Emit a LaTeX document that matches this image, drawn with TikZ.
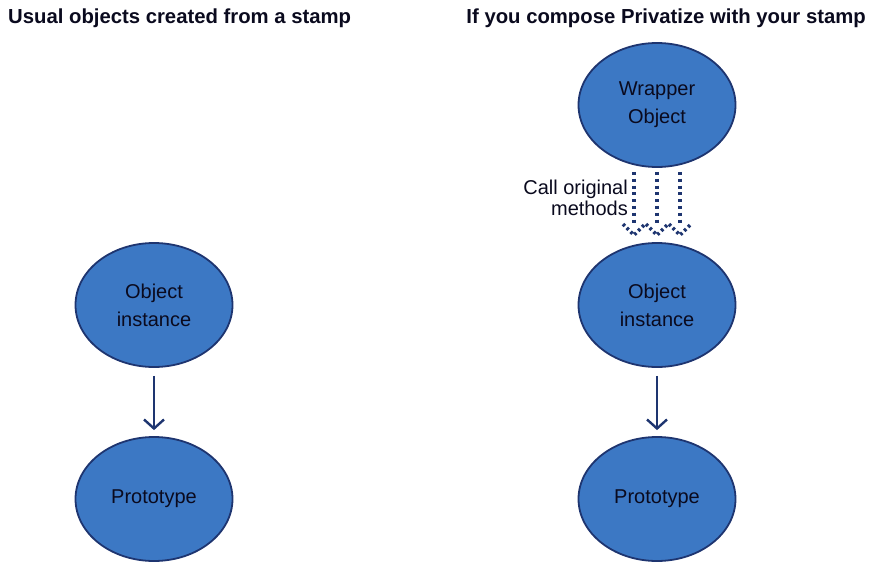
\documentclass[tikz,border=0pt]{standalone}
\usepackage{fontspec}
\setmainfont{Liberation Sans}
\usetikzlibrary{shapes.geometric,arrows.meta}
\definecolor{fillblue}{HTML}{3C78C4}
\definecolor{edgenavy}{HTML}{1E3570}
\definecolor{txt}{HTML}{0A0A1E}
\tikzset{
  x=1pt,y=-1pt,
  blob/.style={ellipse,draw=edgenavy,line width=1.8pt,fill=fillblue,minimum width=157pt,minimum height=124pt,inner sep=0pt,font=\fontsize{20}{28}\selectfont,text=txt,align=center},
  title/.style={font=\bfseries\fontsize{20.3}{22}\selectfont,text=txt,inner sep=0pt},
  solidarrow/.style={draw=edgenavy,line width=2.4pt,-{Straight Barb[length=9pt,width=20pt,line width=2.4pt]}},
  dotline/.style={draw=edgenavy,line width=3.6pt,dash pattern=on 3pt off 3.8pt},
  lbl/.style={font=\fontsize{20}{21}\selectfont,text=txt,align=right,inner sep=0pt}
}
\begin{document}
\begin{tikzpicture}
\useasboundingbox (0,0) rectangle (872,578);
\node[title,anchor=west] (t1) at (8,18) {Usual objects created from a stamp};
\node[title,anchor=east] (t2) at (866,18) {If you compose Privatize with your stamp};

\node[blob] (oi1) at (154,305) {\raisebox{-2pt}{Object}\\\raisebox{-2pt}{instance}};
\node[blob] (pr1) at (154,499) {\raisebox{-3pt}{Prototype}};
\node[blob] (wr) at (657,105) {\raisebox{-3pt}{Wrapper}\\\raisebox{-3pt}{Object}};
\node[blob] (oi2) at (657,305) {\raisebox{-2pt}{Object}\\\raisebox{-2pt}{instance}};
\node[blob] (pr2) at (657,499) {\raisebox{-3pt}{Prototype}};

\draw[solidarrow] ([yshift=-8pt]oi1.south) -- ([yshift=6pt]pr1.north);
\draw[solidarrow] ([yshift=-8pt]oi2.south) -- ([yshift=6pt]pr2.north);

\foreach \dx/\n in {-23/l,0/m,23/r}{
  \coordinate (s\n) at ([xshift=\dx pt,yshift=-4pt]wr.south);
  \coordinate (e\n) at ([xshift=\dx pt,yshift=7pt]oi2.north);
  \draw[dotline] (s\n) -- ([yshift=10pt]e\n);
  \draw[dotline,dash pattern=on 2.6pt off 2.8pt] ([xshift=-11pt,yshift=11pt]e\n) -- (e\n) -- ([xshift=11pt,yshift=11pt]e\n);
}
\node[lbl,anchor=east] (cm) at (628,198) {Call original\\methods};
\end{tikzpicture}
\end{document}
